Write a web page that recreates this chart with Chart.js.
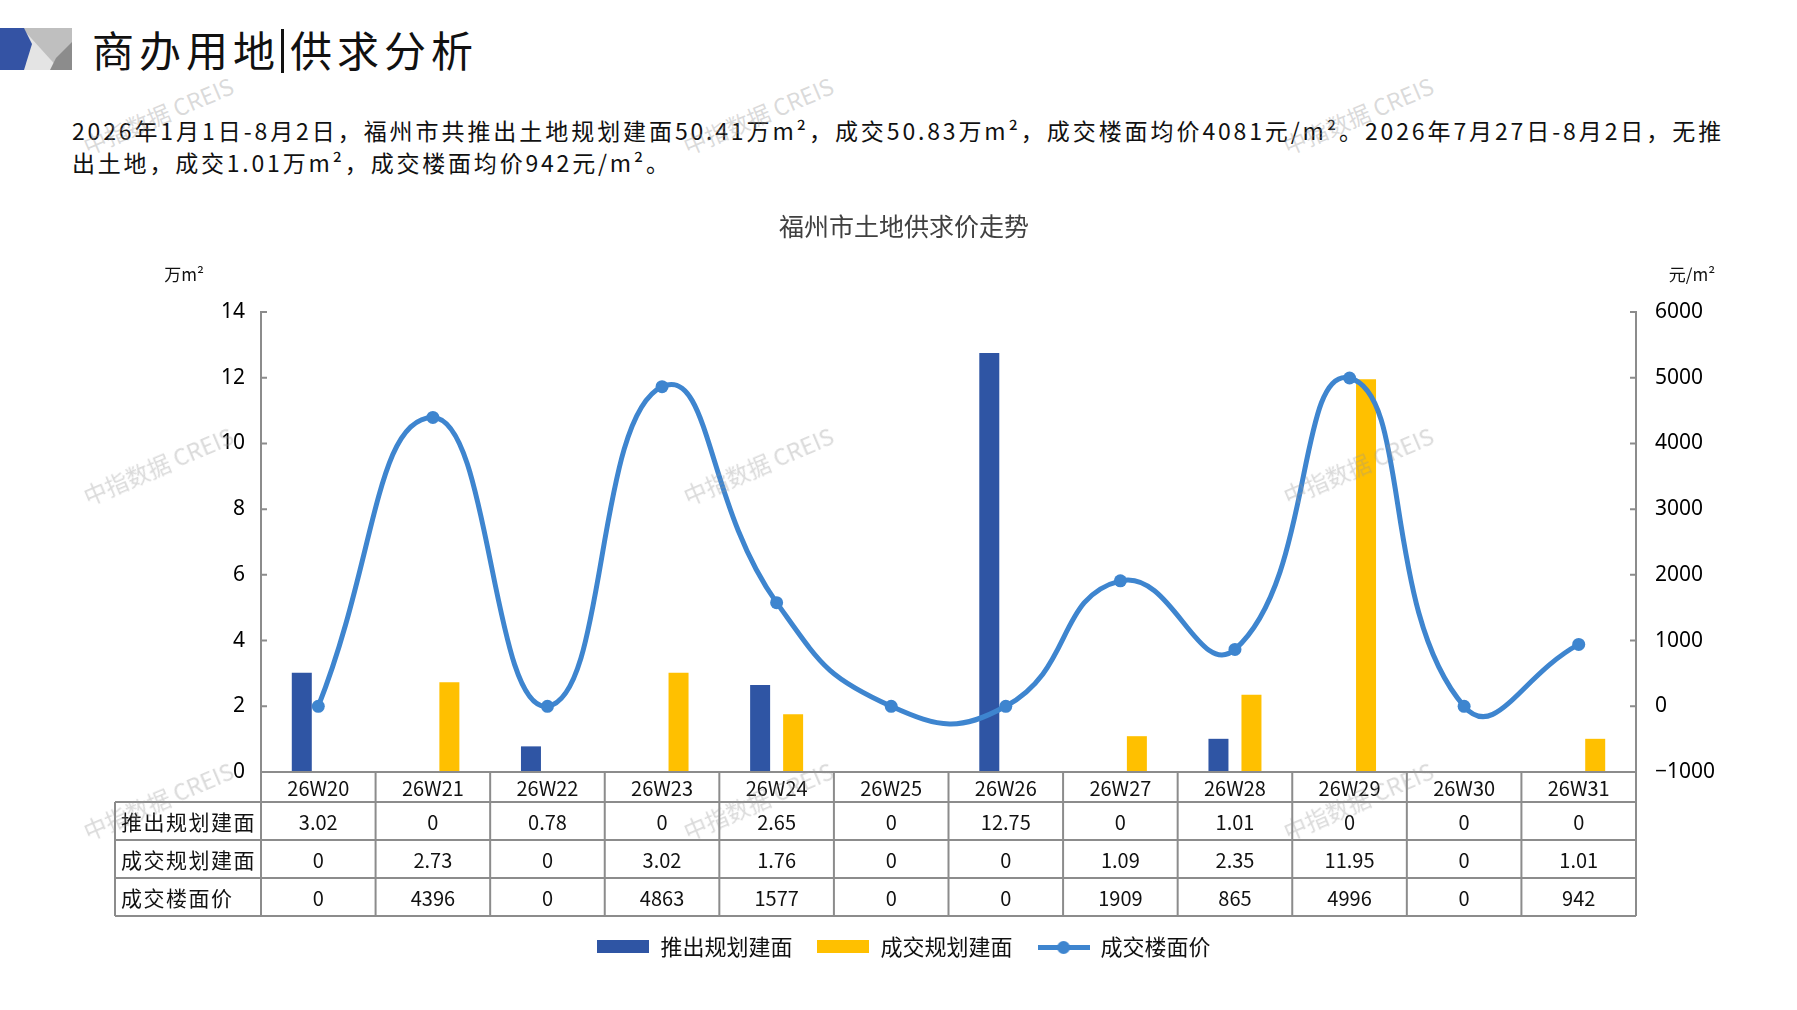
<!DOCTYPE html>
<html lang="zh-CN">
<head>
<meta charset="utf-8">
<title>商办用地|供求分析</title>
<script src="https://cdn.jsdelivr.net/npm/chart.js@4.4.1/dist/chart.umd.min.js"></script>
<style>
    html, body { margin: 0; padding: 0; background: #fff; }
    body {
        width: 1797px; height: 1010px; position: relative; overflow: hidden;
        font-family: "Noto Sans CJK SC", sans-serif; color: #111;
    }
    .logo { position: absolute; left: 0; top: 28px; }
    .heading {
        position: absolute; left: 92px; top: 19px;
        font-size: 42px; line-height: 60px; letter-spacing: 5px; white-space: nowrap;
    }
    .heading .bar {
        display: inline-block; width: 3px; height: 44px; background: #111;
        vertical-align: -6px; margin: 0 6px 0 1px;
    }
    .summary {
        position: absolute; left: 72px; top: 114px; width: 1652px;
        font-size: 23px; line-height: 32px; letter-spacing: 2.8px;
    }
    .summary .first { text-align: justify; text-align-last: justify; white-space: nowrap; }
    #chart-box { position: absolute; left: 88px; top: 180px; width: 1632px; height: 830px; }
    .wm {
        position: absolute; width: 200px; margin-left: -100px; text-align: center;
        font-size: 23px; line-height: 30px; color: rgba(150, 150, 150, 0.35);
        transform: rotate(-23deg); white-space: nowrap; pointer-events: none; z-index: 5;
        font-family: "Noto Sans CJK SC", sans-serif;
    }
</style>
</head>
<body>
<svg class="logo" width="72" height="42" viewBox="0 0 72 42">
    <rect x="18" y="0" width="54" height="42" fill="#bfbfbf"/>
    <polygon points="22,0 60,42 22,42" fill="#e4e4e4"/>
    <polygon points="72,14 72,42 50,42 56,30" fill="#8c8c8c"/>
    <polygon points="0,0 24,0 32,16 24,42 0,42" fill="#3453a4"/>
</svg>
<div class="heading">商办用地<span class="bar"></span>供求分析</div>
<div class="summary">
    <div class="first">2026年1月1日-8月2日，福州市共推出土地规划建面50.41万m²，成交50.83万m²，成交楼面均价4081元/m²。2026年7月27日-8月2日，无推</div>
    <div>出土地，成交1.01万m²，成交楼面均价942元/m²。</div>
</div>
<div id="chart-box"><canvas id="supply-chart"></canvas></div>

<div class="wm" style="left:158px;top:100px">中指数据 CREIS</div>
<div class="wm" style="left:758px;top:100px">中指数据 CREIS</div>
<div class="wm" style="left:1358px;top:100px">中指数据 CREIS</div>
<div class="wm" style="left:158px;top:450px">中指数据 CREIS</div>
<div class="wm" style="left:758px;top:450px">中指数据 CREIS</div>
<div class="wm" style="left:1358px;top:450px">中指数据 CREIS</div>
<div class="wm" style="left:158px;top:785px">中指数据 CREIS</div>
<div class="wm" style="left:758px;top:785px">中指数据 CREIS</div>
<div class="wm" style="left:1358px;top:785px">中指数据 CREIS</div>

<script>
// 数据（万m²、元/m²）
const categories = ['26W20', '26W21', '26W22', '26W23', '26W24', '26W25',
                    '26W26', '26W27', '26W28', '26W29', '26W30', '26W31'];
const launchedArea = [3.02, 0, 0.78, 0, 2.65, 0, 12.75, 0, 1.01, 0, 0, 0];
const tradedArea = [0, 2.73, 0, 3.02, 1.76, 0, 0, 1.09, 2.35, 11.95, 0, 1.01];
const floorPrice = [0, 4396, 0, 4863, 1577, 0, 0, 1909, 865, 4996, 0, 942];
const seriesNames = ['推出规划建面', '成交规划建面', '成交楼面价'];
const areaAxis = [0, 14, 2];        // min, max, step
const priceAxis = [-1000, 6000, 1000];
const unitLabels = ['万m²', '元/m²'];

const BLUE = '#2f55a4';
const YELLOW = '#ffc000';
const LINE_BLUE = '#3e85cf';
const GRID = '#8c8c8c';
const CJK = '"Noto Sans CJK SC", sans-serif';

// 图例小图标
const makeIcon = (color, isLine) => {
    const c = document.createElement('canvas');
    c.width = 52; c.height = 14;
    const g = c.getContext('2d');
    g.fillStyle = color;
    if (isLine) {
        g.fillRect(0, 5, 52, 5);
        g.beginPath(); g.arc(26, 7.5, 6.5, 0, Math.PI * 2); g.fill();
    } else {
        g.fillRect(0, 0, 52, 13);
    }
    return c;
};
const legendIcons = [makeIcon(BLUE), makeIcon(YELLOW), makeIcon(LINE_BLUE, true)];

// 表格 + 单位 + 内侧刻度
const dataTable = {
    id: 'dataTable',
    afterDraw(chart) {
        const { ctx, chartArea, scales: { x, y, y1 } } = chart;
        const step = x.getPixelForValue(1) - x.getPixelForValue(0);
        const b = chartArea.bottom;
        const rows = [b, b + 30, b + 68, b + 106, b + 144];
        const left = chartArea.left - 146;
        const rowValues = [launchedArea, tradedArea, floorPrice];

        ctx.save();
        ctx.strokeStyle = GRID;
        ctx.lineWidth = 2;
        ctx.beginPath();
        ctx.moveTo(chartArea.left, rows[0]); ctx.lineTo(chartArea.right, rows[0]);
        for (let r = 1; r < rows.length; r++) {
            ctx.moveTo(left, rows[r]); ctx.lineTo(chartArea.right, rows[r]);
        }
        ctx.moveTo(left, rows[1]); ctx.lineTo(left, rows[4]);
        for (let k = 0; k <= categories.length; k++) {
            const px = chartArea.left + k * step;
            ctx.moveTo(px, rows[0]); ctx.lineTo(px, rows[4]);
        }
        // 内侧刻度线
        y.ticks.forEach(t => {
            const py = y.getPixelForValue(t.value);
            ctx.moveTo(chartArea.left, py); ctx.lineTo(chartArea.left + 6, py);
        });
        y1.ticks.forEach(t => {
            const py = y1.getPixelForValue(t.value);
            ctx.moveTo(chartArea.right - 6, py); ctx.lineTo(chartArea.right, py);
        });
        ctx.stroke();

        ctx.fillStyle = '#111';
        ctx.textBaseline = 'middle';
        ctx.textAlign = 'center';
        ctx.font = '20px ' + CJK;
        categories.forEach((c, i) => {
            ctx.fillText(c, x.getPixelForValue(i), (rows[0] + rows[1]) / 2 + 1);
            rowValues.forEach((vals, r) => {
                ctx.fillText(String(vals[i]), x.getPixelForValue(i), (rows[r + 1] + rows[r + 2]) / 2 + 1);
            });
        });
        ctx.textAlign = 'left';
        ctx.font = '21px ' + CJK;
        ctx.letterSpacing = '1.5px';
        seriesNames.forEach((name, r) => {
            ctx.fillText(name, left + 6, (rows[r + 1] + rows[r + 2]) / 2 + 1);
        });

        ctx.letterSpacing = '0px';
        ctx.textAlign = 'center';
        ctx.font = '17px ' + CJK;
        ctx.fillText(unitLabels[0], chartArea.left - 77, chartArea.top - 37);
        ctx.fillText(unitLabels[1], chartArea.right + 56, chartArea.top - 37);
        ctx.restore();
    }
};

const tickFont = { size: 21, family: '"Noto Sans", sans-serif' };

new Chart(document.getElementById('supply-chart'), {
    type: 'bar',
    data: {
        labels: categories,
        datasets: [
            {
                label: seriesNames[0],
                data: launchedArea,
                backgroundColor: BLUE,
                categoryPercentage: 0.576,
                barPercentage: 0.606,
                yAxisID: 'y',
                order: 1
            },
            {
                label: seriesNames[1],
                data: tradedArea,
                backgroundColor: YELLOW,
                categoryPercentage: 0.576,
                barPercentage: 0.606,
                yAxisID: 'y',
                order: 1
            },
            {
                type: 'line',
                label: seriesNames[2],
                data: floorPrice,
                borderColor: LINE_BLUE,
                backgroundColor: LINE_BLUE,
                borderWidth: 5,
                pointRadius: 6.5,
                pointBorderWidth: 0,
                pointBackgroundColor: LINE_BLUE,
                tension: 0.5,
                yAxisID: 'y1',
                order: 0
            }
        ]
    },
    options: {
        responsive: true,
        maintainAspectRatio: false,
        animation: false,
        layout: { padding: { top: 0, left: 0, right: 0, bottom: 42 } },
        scales: {
            x: {
                offset: true,
                grid: { display: false },
                border: { display: false },
                ticks: { display: false },
                // 表格占位（表格本身在插件里画）
                afterFit: s => { s.height = 139; }
            },
            y: {
                position: 'left',
                min: areaAxis[0], max: areaAxis[1],
                ticks: { stepSize: areaAxis[2], padding: 16, color: '#000', font: tickFont },
                grid: { display: false, drawTicks: false },
                border: { color: GRID, width: 2 },
                afterFit: s => { s.width = 173; }
            },
            y1: {
                position: 'right',
                min: priceAxis[0], max: priceAxis[1],
                ticks: {
                    stepSize: priceAxis[2], padding: 19, color: '#000', font: tickFont,
                    callback: v => (v < 0 ? '\u2212' + Math.abs(v) : String(v))
                },
                grid: { display: false, drawTicks: false },
                border: { color: GRID, width: 2 },
                afterFit: s => { s.width = 84; }
            }
        },
        plugins: {
            title: {
                display: true,
                text: '福州市土地供求价走势',
                color: '#404040',
                font: { size: 25, family: CJK, weight: 'normal' },
                padding: { top: 31, bottom: 71 }
            },
            legend: {
                position: 'bottom',
                labels: {
                    usePointStyle: true,
                    pointStyleWidth: 52,
                    boxHeight: 13,
                    padding: 25,
                    color: '#111',
                    font: { size: 22, family: CJK },
                    sort: (a, b) => a.datasetIndex - b.datasetIndex,
                    generateLabels: chart =>
                        Chart.defaults.plugins.legend.labels.generateLabels(chart)
                            .map(item => ({ ...item, pointStyle: legendIcons[item.datasetIndex] }))
                }
            },
            tooltip: { enabled: false }
        }
    },
    plugins: [dataTable]
});
</script>
</body>
</html>
